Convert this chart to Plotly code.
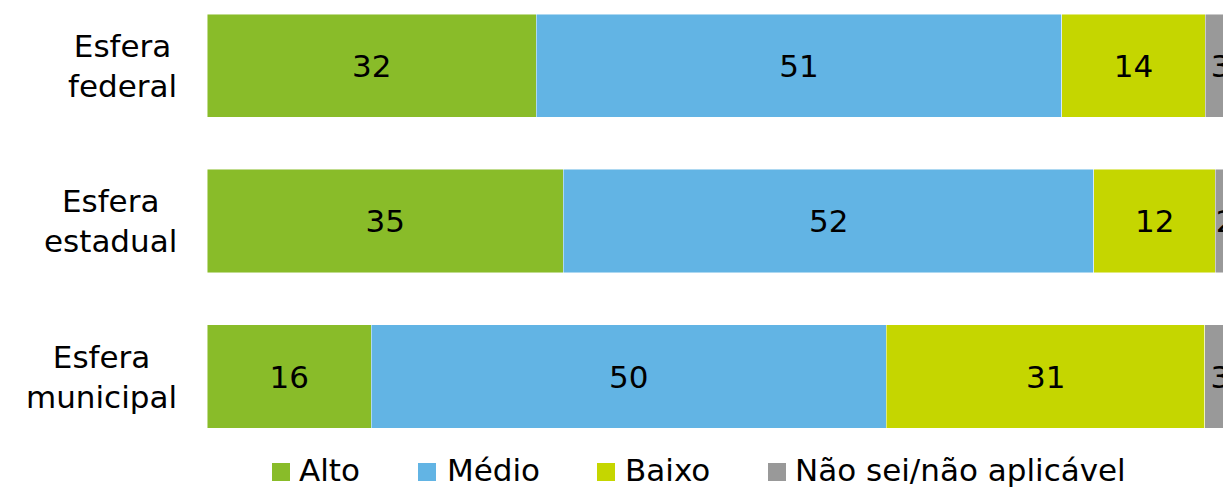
import plotly.graph_objects as go

categories = ["Esfera federal", "Esfera estadual", "Esfera municipal"]
cat_labels = ["Esfera<br>federal", "Esfera<br>estadual", "Esfera<br>municipal"]
series_names = ["Alto", "Médio", "Baixo", "Não sei/não aplicável"]
alto = [32.0, 34.63, 15.97]
medio = [51.05, 51.57, 50.05]
baixo = [13.97, 11.81, 30.97]
nao_sei = [2.98, 1.99, 3.01]
colors = ["#89BC29", "#62B4E4", "#C5D600", "#999999"]

FONT = "DejaVu Sans"
values = [alto, medio, baixo, nao_sei]

fig = go.Figure()
for name, vals, col in zip(series_names, values, colors):
    fig.add_trace(go.Bar(
        y=categories, x=vals, name=name, orientation="h",
        marker=dict(color=col, line=dict(color="rgba(255,255,255,0.6)", width=0.8)),
        text=vals, texttemplate="%{x:.0f}", textposition="inside",
        insidetextanchor="middle", constraintext="none",
        textfont=dict(family=FONT, size=31, color="#000000"),
        cliponaxis=True, width=0.665, showlegend=False,
    ))

# category labels (centered lines, right-aligned block)
for cat, lab in zip(categories, cat_labels):
    fig.add_annotation(xref="paper", yref="y", x=0, y=cat, xshift=-28,
                       xanchor="right", yanchor="middle", align="center",
                       text=lab, showarrow=False,
                       font=dict(family=FONT, size=31, color="#000000"))

# legend drawn manually
sq_left = [65, 211, 390, 561]
txt_left = [90, 238, 416, 586]
for name, col, sx, tx in zip(series_names, colors, sq_left, txt_left):
    fig.add_shape(type="rect", xref="paper", yref="paper",
                  xsizemode="pixel", ysizemode="pixel", xanchor=0, yanchor=0,
                  x0=sx, x1=sx + 18, y0=-41, y1=-23,
                  fillcolor=col, line=dict(width=0))
    fig.add_annotation(xref="paper", yref="paper", x=0, y=0, xshift=tx, yshift=-30,
                       xanchor="left", yanchor="middle", text=name, showarrow=False,
                       font=dict(family=FONT, size=31, color="#000000"))

fig.update_layout(
    width=1223, height=487,
    margin=dict(l=207, r=0, t=0, b=47),
    barmode="stack", bargap=0.335,
    paper_bgcolor="white", plot_bgcolor="white",
    xaxis=dict(range=[0, 98.74], visible=False, fixedrange=True),
    yaxis=dict(range=[2.408, -0.423], showticklabels=False, showgrid=False,
               zeroline=False, showline=False, ticks="", fixedrange=True),
    showlegend=False,
    font=dict(family=FONT),
)

fig.write_html(
    "out.html",
    config={"displayModeBar": False},
    post_script="document.body.style.margin='0';document.body.style.overflow='hidden';",
)
